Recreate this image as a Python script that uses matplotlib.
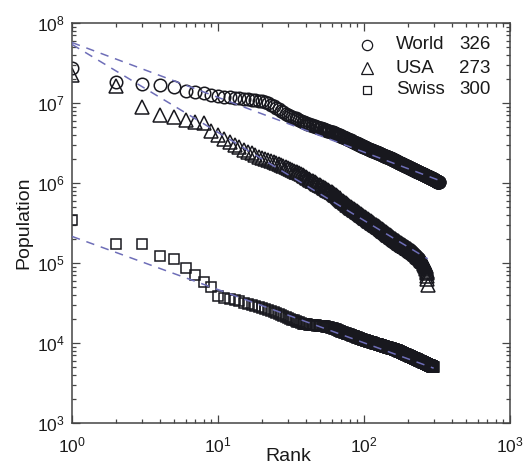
import numpy as np
import matplotlib
matplotlib.use("Agg")
import matplotlib.pyplot as plt
from matplotlib.ticker import LogLocator, LogFormatterSciNotation, NullFormatter

plt.rcParams['font.family'] = ['Liberation Sans', 'DejaVu Sans']
plt.rcParams['mathtext.default'] = 'regular'

# ---------------- data ----------------
series_names = ["World", "USA", "Swiss"]
series_counts = ["326", "273", "300"]

# World cities, population in millions, by rank 1..326
world_pop_millions = [
    27.4, 18.3, 17.3, 16.8, 15.8, 14.1, 13.7, 13.3, 12.6, 12.2,
    12.0, 11.9, 11.6, 11.4, 11.2, 11.1, 11.0, 10.8, 10.7, 10.6,
    10.3, 10.0, 9.55, 9.08, 8.66, 8.30, 7.95, 7.64, 7.34, 7.08,
    6.90, 6.72, 6.56, 6.41, 6.26, 6.12, 5.99, 5.86, 5.74, 5.62,
    5.54, 5.45, 5.37, 5.29, 5.21, 5.14, 5.07, 5.00, 4.93, 4.87,
    4.81, 4.75, 4.69, 4.64, 4.59, 4.53, 4.48, 4.44, 4.39, 4.34,
    4.28, 4.23, 4.17, 4.12, 4.07, 4.02, 3.97, 3.93, 3.88, 3.84,
    3.79, 3.75, 3.71, 3.67, 3.63, 3.59, 3.55, 3.52, 3.48, 3.45,
    3.41, 3.37, 3.34, 3.30, 3.26, 3.23, 3.20, 3.16, 3.13, 3.10,
    3.07, 3.04, 3.01, 2.98, 2.95, 2.92, 2.90, 2.87, 2.84, 2.82,
    2.80, 2.78, 2.75, 2.73, 2.71, 2.69, 2.67, 2.65, 2.64, 2.62,
    2.60, 2.58, 2.56, 2.54, 2.53, 2.51, 2.49, 2.48, 2.46, 2.44,
    2.43, 2.41, 2.40, 2.38, 2.37, 2.35, 2.34, 2.32, 2.31, 2.30,
    2.28, 2.27, 2.26, 2.24, 2.23, 2.22, 2.20, 2.19, 2.18, 2.17,
    2.16, 2.14, 2.13, 2.12, 2.11, 2.10, 2.09, 2.07, 2.06, 2.05,
    2.04, 2.03, 2.02, 2.01, 1.99, 1.98, 1.97, 1.96, 1.95, 1.94,
    1.93, 1.92, 1.91, 1.90, 1.88, 1.87, 1.86, 1.85, 1.84, 1.83,
    1.82, 1.81, 1.80, 1.79, 1.78, 1.78, 1.77, 1.76, 1.75, 1.74,
    1.73, 1.72, 1.72, 1.71, 1.70, 1.69, 1.68, 1.68, 1.67, 1.66,
    1.65, 1.65, 1.64, 1.63, 1.63, 1.62, 1.61, 1.60, 1.60, 1.59,
    1.58, 1.58, 1.57, 1.56, 1.56, 1.55, 1.54, 1.53, 1.53, 1.52,
    1.51, 1.51, 1.50, 1.50, 1.49, 1.48, 1.48, 1.47, 1.47, 1.46,
    1.45, 1.45, 1.44, 1.44, 1.43, 1.42, 1.42, 1.41, 1.41, 1.40,
    1.40, 1.39, 1.39, 1.38, 1.38, 1.37, 1.37, 1.36, 1.36, 1.35,
    1.35, 1.34, 1.34, 1.33, 1.33, 1.32, 1.32, 1.31, 1.31, 1.30,
    1.30, 1.29, 1.29, 1.28, 1.28, 1.28, 1.27, 1.27, 1.26, 1.26,
    1.26, 1.25, 1.25, 1.24, 1.24, 1.24, 1.23, 1.23, 1.22, 1.22,
    1.22, 1.21, 1.21, 1.20, 1.20, 1.20, 1.19, 1.19, 1.18, 1.18,
    1.18, 1.17, 1.17, 1.16, 1.16, 1.16, 1.15, 1.15, 1.14, 1.14,
    1.14, 1.13, 1.13, 1.13, 1.12, 1.12, 1.12, 1.11, 1.11, 1.11,
    1.11, 1.10, 1.10, 1.09, 1.09, 1.09, 1.08, 1.08, 1.07, 1.07,
    1.07, 1.06, 1.06, 1.06, 1.05, 1.05, 1.05, 1.04, 1.04, 1.04,
    1.04, 1.04, 1.03, 1.03, 1.03, 1.03,
]

# USA cities, population in millions, by rank 1..273
usa_pop_millions = [
    22.4, 16.3, 8.91, 7.08, 6.68, 6.13, 5.79, 5.62, 4.47, 3.98,
    3.58, 3.25, 3.00, 2.78, 2.58, 2.46, 2.34, 2.23, 2.14, 2.05,
    1.99, 1.93, 1.88, 1.83, 1.78, 1.72, 1.67, 1.63, 1.58, 1.54,
    1.50, 1.46, 1.43, 1.39, 1.36, 1.33, 1.29, 1.26, 1.22, 1.19,
    1.16, 1.13, 1.10, 1.07, 1.05, 1.02, 0.997, 0.975, 0.953, 0.932,
    0.912, 0.893, 0.875, 0.857, 0.840, 0.824, 0.808, 0.793, 0.778, 0.764,
    0.750, 0.732, 0.716, 0.700, 0.684, 0.669, 0.655, 0.641, 0.628, 0.615,
    0.602, 0.590, 0.579, 0.567, 0.556, 0.546, 0.536, 0.526, 0.516, 0.507,
    0.499, 0.491, 0.484, 0.476, 0.469, 0.462, 0.455, 0.448, 0.442, 0.436,
    0.429, 0.423, 0.417, 0.412, 0.406, 0.401, 0.395, 0.390, 0.385, 0.380,
    0.375, 0.370, 0.366, 0.361, 0.357, 0.352, 0.348, 0.344, 0.339, 0.335,
    0.331, 0.327, 0.324, 0.320, 0.316, 0.313, 0.309, 0.306, 0.302, 0.299,
    0.296, 0.293, 0.289, 0.286, 0.283, 0.280, 0.278, 0.275, 0.272, 0.269,
    0.266, 0.264, 0.261, 0.259, 0.256, 0.253, 0.251, 0.248, 0.246, 0.243,
    0.241, 0.238, 0.236, 0.233, 0.231, 0.229, 0.227, 0.225, 0.223, 0.221,
    0.219, 0.217, 0.215, 0.213, 0.211, 0.209, 0.207, 0.206, 0.204, 0.202,
    0.200, 0.199, 0.197, 0.196, 0.194, 0.193, 0.191, 0.190, 0.188, 0.187,
    0.186, 0.184, 0.183, 0.181, 0.180, 0.179, 0.177, 0.176, 0.175, 0.174,
    0.173, 0.171, 0.170, 0.169, 0.168, 0.167, 0.166, 0.165, 0.164, 0.163,
    0.162, 0.161, 0.160, 0.159, 0.158, 0.157, 0.156, 0.155, 0.154, 0.153,
    0.152, 0.151, 0.151, 0.150, 0.149, 0.148, 0.147, 0.146, 0.145, 0.144,
    0.143, 0.143, 0.142, 0.141, 0.140, 0.139, 0.139, 0.138, 0.137, 0.136,
    0.135, 0.134, 0.133, 0.132, 0.131, 0.130, 0.129, 0.128, 0.127, 0.126,
    0.125, 0.124, 0.123, 0.122, 0.121, 0.120, 0.119, 0.119, 0.118, 0.117,
    0.116, 0.115, 0.114, 0.113, 0.112, 0.111, 0.110, 0.110, 0.109, 0.108,
    0.107, 0.107, 0.106, 0.105, 0.105, 0.103, 0.102, 0.100, 0.0984, 0.0968,
    0.0953, 0.0937, 0.0922, 0.0906, 0.0891, 0.0860, 0.0830, 0.0800, 0.0770, 0.0741,
    0.0690, 0.0631, 0.0537,
]

# Swiss towns, population in thousands, by rank 1..300
swiss_pop_thousands = [
    345, 173, 173, 122, 112, 86.6, 70.8, 57.9, 50.1, 38.7,
    37.0, 35.6, 34.3, 33.1, 31.9, 30.8, 29.9, 29.0, 28.2, 27.4,
    26.7, 26.0, 25.1, 24.2, 23.5, 22.8, 22.1, 21.5, 21.0, 20.5,
    20.0, 19.6, 19.2, 18.8, 18.5, 18.1, 17.8, 17.5, 17.3, 17.2,
    17.1, 17.0, 16.9, 16.9, 16.8, 16.7, 16.6, 16.5, 16.5, 16.4,
    16.3, 16.2, 16.2, 16.1, 16.0, 16.0, 15.9, 15.8, 15.6, 15.5,
    15.3, 15.1, 15.0, 14.8, 14.6, 14.5, 14.3, 14.2, 14.0, 13.9,
    13.7, 13.6, 13.5, 13.4, 13.2, 13.1, 13.0, 12.9, 12.8, 12.7,
    12.6, 12.5, 12.3, 12.2, 12.1, 12.1, 12.0, 11.9, 11.8, 11.7,
    11.6, 11.5, 11.4, 11.3, 11.3, 11.2, 11.1, 11.0, 11.0, 10.9,
    10.8, 10.8, 10.7, 10.6, 10.6, 10.5, 10.5, 10.4, 10.4, 10.3,
    10.3, 10.2, 10.2, 10.1, 10.1, 10.0, 9.95, 9.90, 9.85, 9.80,
    9.76, 9.71, 9.67, 9.63, 9.59, 9.54, 9.50, 9.46, 9.41, 9.37,
    9.33, 9.29, 9.25, 9.21, 9.18, 9.14, 9.10, 9.06, 9.02, 8.98,
    8.95, 8.91, 8.88, 8.85, 8.81, 8.78, 8.74, 8.71, 8.67, 8.64,
    8.61, 8.58, 8.55, 8.52, 8.49, 8.45, 8.42, 8.39, 8.36, 8.33,
    8.30, 8.27, 8.24, 8.21, 8.18, 8.16, 8.13, 8.09, 8.05, 8.01,
    7.97, 7.93, 7.90, 7.86, 7.82, 7.78, 7.74, 7.71, 7.67, 7.63,
    7.60, 7.56, 7.53, 7.49, 7.46, 7.43, 7.39, 7.36, 7.32, 7.29,
    7.26, 7.23, 7.20, 7.17, 7.14, 7.11, 7.08, 7.05, 7.02, 6.99,
    6.96, 6.93, 6.91, 6.88, 6.85, 6.82, 6.79, 6.77, 6.74, 6.71,
    6.68, 6.66, 6.63, 6.61, 6.58, 6.55, 6.53, 6.50, 6.48, 6.45,
    6.43, 6.41, 6.38, 6.36, 6.34, 6.31, 6.29, 6.27, 6.24, 6.22,
    6.20, 6.18, 6.15, 6.13, 6.11, 6.09, 6.07, 6.04, 6.02, 6.00,
    5.98, 5.96, 5.94, 5.92, 5.90, 5.88, 5.86, 5.83, 5.81, 5.79,
    5.77, 5.75, 5.74, 5.72, 5.70, 5.68, 5.66, 5.65, 5.63, 5.61,
    5.59, 5.57, 5.56, 5.54, 5.52, 5.50, 5.49, 5.47, 5.45, 5.43,
    5.41, 5.40, 5.38, 5.37, 5.35, 5.33, 5.32, 5.30, 5.29, 5.27,
    5.25, 5.24, 5.22, 5.21, 5.19, 5.18, 5.16, 5.15, 5.13, 5.12,
    5.10, 5.09, 5.07, 5.06, 5.04, 5.03, 5.01, 5.00, 4.98, 4.97,
]

# power-law fits  P = A * rank^(-exponent)
fit_amplitude = [5.7e7, 5.4e7, 2.15e5]
fit_exponent = [0.685, 1.10, 0.665]

# ---------------- styling ----------------
markers = ['o', '^', 's']
marker_sizes = [9.0, 10.0, 7.8]
legend_marker_sizes = [7.4, 8.4, 6.4]
edge_color = '#18181e'
fit_color = '#6e6eb8'

populations = [
    np.array(world_pop_millions) * 1e6,
    np.array(usa_pop_millions) * 1e6,
    np.array(swiss_pop_thousands) * 1e3,
]

W, H = 527, 467
fig = plt.figure(figsize=(W / 100, H / 100), dpi=100)
ax = fig.add_axes([72 / W, 1 - 423 / H, 438 / W, 400 / H])

for pop, mk, ms in zip(populations, markers, marker_sizes):
    ranks = np.arange(1, len(pop) + 1)
    ax.plot(ranks, pop, linestyle='none', marker=mk, markersize=ms,
            markerfacecolor='none', markeredgecolor=edge_color,
            markeredgewidth=1.1, zorder=2)

for pop, A, b in zip(populations, fit_amplitude, fit_exponent):
    r = np.array([1.0, float(len(pop))])
    ax.plot(r, A * r ** (-b), color=fit_color, linewidth=1.1,
            dashes=(5.5, 4.5), zorder=3)

ax.set_xscale('log')
ax.set_yscale('log')
ax.set_xlim(1, 1000)
ax.set_ylim(1e3, 1e8)

for axis in (ax.xaxis, ax.yaxis):
    axis.set_major_locator(LogLocator(base=10, numticks=12))
    axis.set_minor_locator(LogLocator(base=10, subs=np.arange(2, 10), numticks=12))
    axis.set_major_formatter(LogFormatterSciNotation())
    axis.set_minor_formatter(NullFormatter())

ax.tick_params(which='both', direction='in', top=True, right=True,
               color='#444444', width=0.9)
ax.tick_params(which='major', length=6, labelsize=12.5, labelcolor='#1a1a1a')
ax.tick_params(which='minor', length=3.2)
ax.tick_params(axis='x', which='major', pad=9)
ax.tick_params(axis='y', which='major', pad=5)

for sp in ax.spines.values():
    sp.set_color('#444444')
    sp.set_linewidth(1.1)

ax.set_xlabel('Rank', fontsize=14, color='#1a1a1a')
ax.xaxis.set_label_coords(0.493, -0.062)
ax.xaxis.label.set_verticalalignment('top')
ax.set_ylabel('Population', fontsize=14, color='#1a1a1a')
ax.yaxis.set_label_coords(-0.09, 0.5)

# legend block
legend_y = [0.945, 0.887, 0.8325]
for name, count, mk, ms, yy in zip(series_names, series_counts, markers,
                                   legend_marker_sizes, legend_y):
    ax.plot([0.6735], [yy], transform=ax.transAxes, marker=mk, markersize=ms,
            markerfacecolor='none', markeredgecolor=edge_color,
            markeredgewidth=0.9, linestyle='none', clip_on=False)
    ax.text(0.7397, yy, name, transform=ax.transAxes, fontsize=13.5,
            va='center', ha='left', color='#1a1a1a')
    ax.text(0.8836, yy, count, transform=ax.transAxes, fontsize=13.5,
            va='center', ha='left', color='#1a1a1a')

fig.savefig('out.png', dpi=100)
